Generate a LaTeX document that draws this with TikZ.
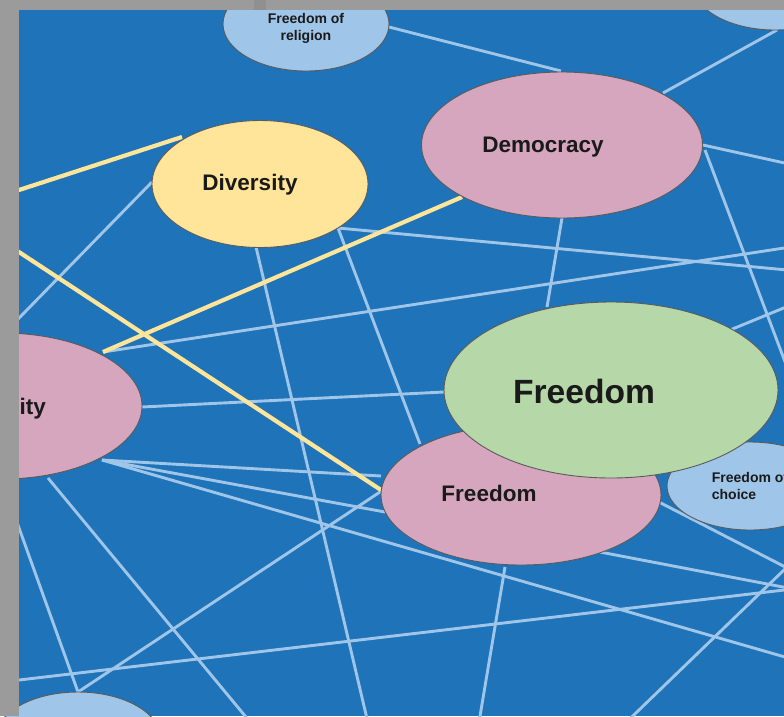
\documentclass[tikz,border=0pt]{standalone}
\usepackage{fontspec}
\setmainfont{Liberation Sans}
\usetikzlibrary{shapes.geometric}
\definecolor{bgblue}{HTML}{1E73B9}
\definecolor{linkblue}{HTML}{9FC5E8}
\definecolor{linkyellow}{HTML}{FFE599}
\definecolor{nodepink}{HTML}{D5A6BD}
\definecolor{nodegreen}{HTML}{B6D7A8}
\definecolor{nodeblue}{HTML}{9FC5E8}
\definecolor{nodeyellow}{HTML}{FFE599}
\definecolor{framegray}{HTML}{9B9B9B}
\definecolor{framedark}{HTML}{909090}
\definecolor{outline}{HTML}{5B5B5B}
\definecolor{labeltext}{HTML}{1A1A1A}
\begin{document}
\begin{tikzpicture}[x=1pt,y=-1pt,
  concept/.style={ellipse, draw=outline, line width=0.9pt, inner sep=0pt},
  smallconcept/.style={concept, fill=nodeblue, minimum width=166pt, minimum height=94pt},
  smallfont/.style={text=labeltext, font=\bfseries\fontsize{14}{17}\selectfont},
  midfont/.style={text=labeltext, font=\bfseries\fontsize{22.5}{27}\selectfont},
  bigfont/.style={text=labeltext, font=\bfseries\fontsize{33.6}{40}\selectfont},
  bluelink/.style={draw=linkblue, line width=2.9pt},
  yellowlink/.style={draw=linkyellow, line width=4.2pt},
]
\useasboundingbox (0,0) rectangle (784,716);
\fill[bgblue] (0,0) rectangle (784,716);
\begin{scope}
\clip (0,0) rectangle (784,716);
% connector end points
\coordinate (relR) at (389,27);
\coordinate (demT) at (561,71);
\coordinate (trB) at (777,30);
\coordinate (demTR) at (663,93);
\coordinate (demR1) at (703,145);
\coordinate (offR1) at (830,173);
\coordinate (demR2) at (705,150);
\coordinate (offR2) at (807,420);
\coordinate (demB) at (562,218);
\coordinate (grnT) at (547,307);
\coordinate (divL) at (152,182);
\coordinate (offL1) at (-20,358);
\coordinate (divBR) at (338,228);
\coordinate (offR3) at (830,274);
\coordinate (pnkTL) at (420,444);
\coordinate (divB) at (256,247);
\coordinate (offB1) at (372,740);
\coordinate (equTR) at (103,352);
\coordinate (offR4) at (830,241);
\coordinate (equR) at (142,407);
\coordinate (grnL) at (444,392);
\coordinate (equBR) at (102,460);
\coordinate (pnkL1) at (381,476);
\coordinate (pnkL2) at (385,512);
\coordinate (offR5) at (830,670);
\coordinate (equB) at (48,478);
\coordinate (offB2) at (265,740);
\coordinate (equB2) at (0,475);
\coordinate (blT) at (78,692);
\coordinate (pnkL3) at (383,490);
\coordinate (offL2) at (-20,684.6);
\coordinate (offR6) at (830,584.6);
\coordinate (pnkB) at (505,567);
\coordinate (offB3) at (476,740);
\coordinate (pnkBR) at (600,552);
\coordinate (offR7) at (830,596);
\coordinate (pnkR) at (655,500);
\coordinate (offR8) at (830,590);
\coordinate (offB4) at (610,738);
\coordinate (offR9) at (830,525.5);
\coordinate (grnTR) at (730,330);
\coordinate (offR10) at (830,289);
\coordinate (offL3) at (-20,202.7);
\coordinate (divTL) at (182,137);
\coordinate (demBL) at (462,197);
\coordinate (equT) at (103,352);
\coordinate (offL4) at (-20,226.4);
\coordinate (pnkL4) at (381,490);

% blue connectors
\draw[bluelink] (relR) -- (demT);
\draw[bluelink] (trB) -- (demTR);
\draw[bluelink] (demR1) -- (offR1);
\draw[bluelink] (demR2) -- (offR2);
\draw[bluelink] (demB) -- (grnT);
\draw[bluelink] (divL) -- (offL1);
\draw[bluelink] (divBR) -- (offR3);
\draw[bluelink] (divBR) -- (pnkTL);
\draw[bluelink] (divB) -- (offB1);
\draw[bluelink] (equTR) -- (offR4);
\draw[bluelink] (equR) -- (grnL);
\draw[bluelink] (equBR) -- (pnkL1);
\draw[bluelink] (equBR) -- (pnkL2);
\draw[bluelink] (equBR) -- (offR5);
\draw[bluelink] (equB) -- (offB2);
\draw[bluelink] (equB2) -- (blT);
\draw[bluelink] (pnkL3) -- (blT);
\draw[bluelink] (offL2) -- (offR6);
\draw[bluelink] (pnkB) -- (offB3);
\draw[bluelink] (pnkBR) -- (offR7);
\draw[bluelink] (pnkR) -- (offR8);
\draw[bluelink] (offB4) -- (offR9);
\draw[bluelink] (grnTR) -- (offR10);
% yellow connectors
\draw[yellowlink] (offL3) -- (divTL);
\draw[yellowlink] (demBL) -- (equT);
\draw[yellowlink] (offL4) -- (pnkL4);

% concept nodes
\node[smallconcept, label={[smallfont, align=center, yshift=-4pt]center:Freedom of\\religion}] (religion) at (306,24) {};
\node[smallconcept] (topright) at (775,-17) {};
\node[smallconcept] (bottomleft) at (78,739) {};
\node[concept, fill=nodepink, minimum width=281pt, minimum height=146pt,
      label={[midfont, xshift=-19pt, yshift=-2pt]center:Democracy}] (democracy) at (562,145) {};
\node[concept, fill=nodeyellow, minimum width=216pt, minimum height=127pt,
      label={[midfont, xshift=-10pt, yshift=-1pt]center:Diversity}] (diversity) at (260,184) {};
\node[concept, fill=nodepink, minimum width=280pt, minimum height=146pt,
      label={[midfont, yshift=-3pt]center:Equality}] (equality) at (2,406) {};
\node[concept, fill=nodepink, minimum width=280pt, minimum height=140pt,
      label={[midfont, xshift=-32pt, yshift=2pt]center:Freedom}] (freedomsmall) at (521,495) {};
\node[smallconcept, minimum height=88pt,
      label={[smallfont, align=left]center:Freedom of\\choice}] (choice) at (750,486) {};
\node[concept, fill=nodegreen, minimum width=334pt, minimum height=176pt,
      label={[bigfont, xshift=-27pt, yshift=-1pt]center:Freedom}] (freedombig) at (611,390) {};
\end{scope}
% screenshot frame
\fill[framegray] (0,0) rectangle (784,10);
\fill[framedark] (254,0) rectangle (266,10);
\fill[framegray] (0,0) rectangle (18.5,716);
\end{tikzpicture}
\end{document}
